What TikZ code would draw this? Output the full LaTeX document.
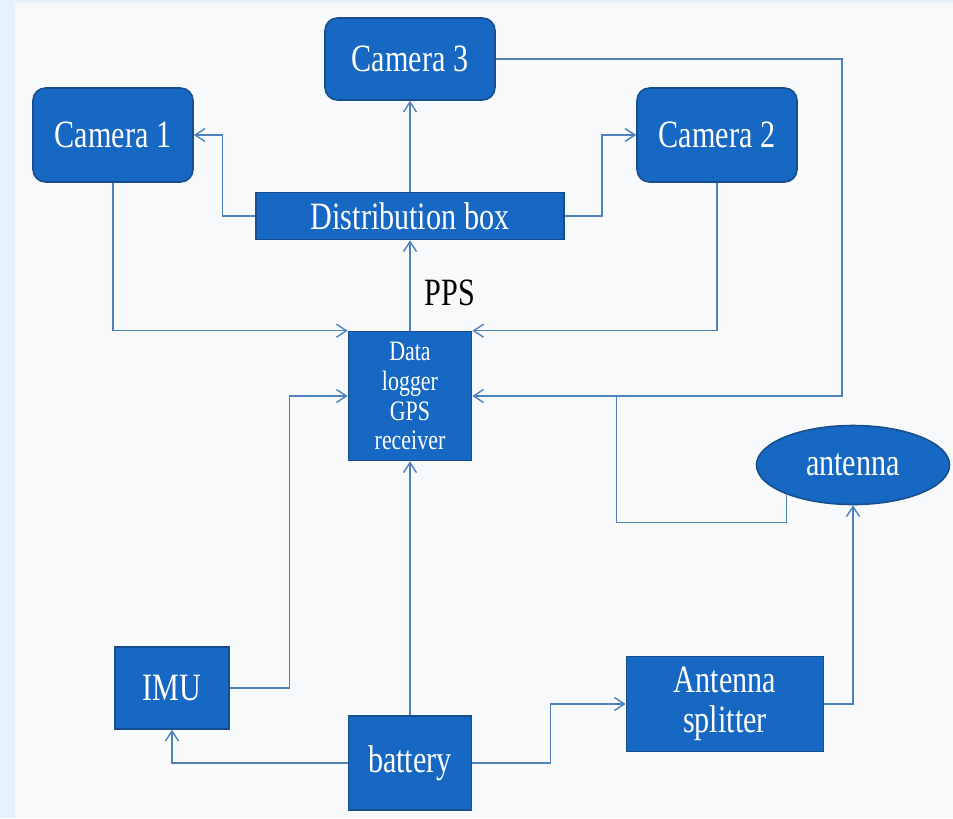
\documentclass[tikz,border=0pt]{standalone}
\usepackage{fontspec}
\setmainfont{Liberation Serif}[FakeStretch=0.78]
\usetikzlibrary{positioning,shapes.geometric,arrows.meta}
\definecolor{boxblue}{HTML}{1668C2}
\definecolor{boxedge}{HTML}{174F8C}
\definecolor{wireblue}{HTML}{4F81BD}
\definecolor{pagebg}{HTML}{E6F2FB}
\definecolor{slidebg}{HTML}{F8F9FA}

\begin{document}
\begin{tikzpicture}[on grid,
  every node/.style={align=center,font=\fontsize{22}{24}\selectfont},
  box/.style={draw=boxedge,line width=0.9pt,fill=boxblue,text=white,inner sep=0pt},
  cam/.style={box,rounded corners=0.25cm,minimum width=3.2cm,minimum height=1.88cm},
  wire/.style={draw=wireblue,line width=0.8pt,-{Straight Barb[length=2mm,width=2.6mm]}},
  plain/.style={draw=wireblue,line width=0.8pt}]
\fill[pagebg] (0,0) rectangle (19.06,-16.36);
\fill[slidebg] (0.3,-0.06) rectangle (19.06,-16.36);
\useasboundingbox (0,0) rectangle (19.06,-16.36);

\node (logger) [box,minimum width=2.46cm,minimum height=2.58cm,
                font=\fontsize{16}{17}\selectfont] at (8.2,-7.92) {Data\\logger\\GPS\\receiver};
\node (dbox)   [box,minimum width=6.16cm,minimum height=0.94cm,above=3.6cm of logger] {Distribution box};
\node (cam3)   [cam,minimum width=3.4cm,minimum height=1.64cm,above=3.14cm of dbox] {Camera 3};
\node (cam1)   [cam,above left=1.62cm and 5.94cm of dbox] {Camera 1};
\node (cam2)   [cam,above right=1.62cm and 6.14cm of dbox] {Camera 2};
\node (pps)    [above right=2.06cm and 0.8cm of logger] {PPS};
\node (ant)    [box,ellipse,minimum width=3.86cm,minimum height=1.58cm,
                below right=1.38cm and 8.86cm of logger] {antenna};
\node (battery)[box,minimum width=2.46cm,minimum height=1.88cm,below=7.34cm of logger] {battery};
\node (imu)    [box,minimum width=2.28cm,minimum height=1.64cm,
                above left=1.5cm and 4.76cm of battery] {IMU};
\node (split)  [box,minimum width=3.94cm,minimum height=1.9cm,
                font=\fontsize{22}{23}\selectfont,
                above right=1.18cm and 6.3cm of battery] {Antenna\\splitter};

\draw[wire] (dbox.west) -- ++(-0.66,0) |- (cam1.east);
\draw[wire] (dbox.north) -- (cam3.south);
\draw[wire] (dbox.east) -- ++(0.74,0) |- (cam2.west);
\draw[wire] (logger.north) -- (dbox.south);
\draw[wire] (cam1.south) |- (logger.north west);
\draw[wire] (cam2.south) |- (logger.north east);
\draw[wire] (cam3.east) -- ++(6.92,0) |- (logger.east);
\draw[plain] (ant.204) -- ++(0,-0.56) -| ([xshift=2.88cm]logger.east);
\draw[wire] (imu.east) -- ++(1.2,0) |- (logger.west);
\draw[wire] (battery.north) -- (logger.south);
\draw[wire] (battery.west) -| (imu.south);
\draw[wire] (battery.east) -- ++(1.56,0) |- (split.west);
\draw[wire] (split.east) -| (ant.south);
\end{tikzpicture}
\end{document}
